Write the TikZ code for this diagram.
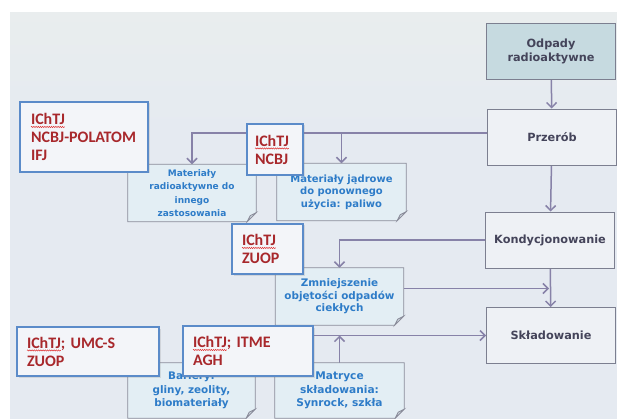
\documentclass[tikz,border=0pt]{standalone}
\usepackage{fontspec}
\usetikzlibrary{arrows.meta,shadows,decorations.pathmorphing}
\newfontfamily\instfont{Carlito}
\newfontfamily\boxfont{DejaVu Sans}

\definecolor{linecol}{HTML}{8782A8}
\definecolor{boxline}{HTML}{7C7F90}
\definecolor{stagetext}{HTML}{44445A}
\definecolor{wastefill}{HTML}{C6DAE0}
\definecolor{notefill}{HTML}{E3EEF4}
\definecolor{noteline}{HTML}{8A8C9A}
\definecolor{notetext}{HTML}{2E7CC8}
\definecolor{instline}{HTML}{5B8BC9}
\definecolor{instfill}{HTML}{F3F5F9}
\definecolor{insttext}{HTML}{A8282C}
\definecolor{spellred}{HTML}{E03030}
\definecolor{bgtop}{HTML}{EFF3E8}
\definecolor{bgmid}{HTML}{E5EAF1}
\definecolor{bglow}{HTML}{D0DBD4}
\definecolor{bgbot}{HTML}{A9BCA8}

\pgfdeclareverticalshading{slidebg}{100bp}{color(0bp)=(bgbot); color(4bp)=(bgbot); color(9bp)=(bglow); color(14bp)=(bgmid); color(60bp)=(bgmid); color(100bp)=(bgtop)}

\pgfdeclarelayer{back}
\pgfsetlayers{back,main}

\newsavebox\spellbox
\newcommand\spellerr[1]{\sbox\spellbox{#1}\rlap{\tikz[overlay, x=1pt, y=1pt]
  \draw [spellred, line width=0.5pt, decorate, decoration={snake, amplitude=0.6pt, segment length=2.2pt}]
    (0pt,-2.4pt) -- (\wd\spellbox,-2.4pt);}\usebox\spellbox}

\begin{document}
\begin{tikzpicture}[x=1pt, y=-1pt, >={Straight Barb[length=5pt,width=10pt]},
  stage/.style={draw=boxline, line width=0.9pt, fill=white, fill opacity=0.35, text opacity=1,
    minimum width=129pt, minimum height=56pt, align=center, text=stagetext,
    font=\boxfont\bfseries\fontsize{11.3}{13.5}\selectfont},
  note/.style={minimum width=128pt, minimum height=57pt, inner sep=0pt, align=center,
    text=notetext},
  inst/.style={draw=instline, line width=1.3pt, fill=instfill, text=insttext,
    inner xsep=10pt, inner ysep=0pt, align=left, anchor=center,
    drop shadow={opacity=0.2, shadow xshift=1.5pt, shadow yshift=-1.5pt},
    font=\instfont\bfseries\fontsize{16}{18}\selectfont},
  conn/.style={draw=linecol, line width=1.5pt},
  notebg/.style={fill=notefill, draw=noteline, line width=0.8pt}]

\useasboundingbox (0,0) rectangle (617,419);

% process stages
\node [stage, fill=wastefill, fill opacity=1] (odp) at (551,51.5) {Odpady\\radioaktywne};
\node [stage] (prz) at (552,137) {Przerób};
\node [stage] (kon) at (550,240) {Kondycjonowanie};
\node [stage] (skl) at (551,335.5) {Składowanie};

% notes
\node [note, font=\boxfont\bfseries\fontsize{9}{13.5}\selectfont] (mr) at (192,193) {Materiały\\radioaktywne do\\innego\\zastosowania};
\node [note, minimum width=129pt, font=\boxfont\bfseries\fontsize{10}{12.5}\selectfont] (mj) at (341.5,192) {Materiały jądrowe\\do ponownego\\użycia: paliwo};
\node [note, font=\boxfont\bfseries\fontsize{10.4}{12.5}\selectfont] (zm) at (339.5,296.5) {Zmniejszenie\\objętości odpadów\\ciekłych};
\node [note, minimum width=127pt, minimum height=55pt, font=\boxfont\bfseries\fontsize{10.4}{13.5}\selectfont] (ba) at (191.5,390.5) {Bariery:\\gliny, zeolity,\\biomateriały};
\node [note, minimum width=129pt, minimum height=55pt, font=\boxfont\bfseries\fontsize{10.6}{13.5}\selectfont] (ma) at (339.5,390.5) {Matryce\\składowania:\\Synrock, szkła};

% institutes
\node [inst, text width=106pt, minimum height=70pt, inner xsep=11pt] (polatom) at (84,137)
  {\spellerr{IChTJ}\\NCBJ-POLATOM\\IFJ};
\node [inst, text width=40pt, minimum height=51pt, inner xsep=8pt] (ncbj) at (275,149.5)
  {\spellerr{IChTJ}\\NCBJ};
\node [inst, text width=51pt, minimum height=50pt] (zuop) at (267.5,249)
  {\spellerr{IChTJ}\\ZUOP};
\node [inst, text width=122pt, minimum height=49pt] (umcs) at (88,351.5)
  {\spellerr{IChTJ}; UMC-S\\ZUOP};
\node [inst, text width=110pt, minimum height=50pt] (itme) at (248,351)
  {\spellerr{IChTJ}; ITME\\AGH};

\begin{pgfonlayer}{back}
\fill [white] (0,0) rectangle (617,419);
\shade [shading=slidebg] (10,13) rectangle (617,419);

\coordinate (prz-l) at ([yshift=4pt]prz.west);
\coordinate (zm-r) at ([yshift=8pt]zm.east);

\draw [conn,->] (odp) -- (prz);
\draw [conn,->] (prz) -- (kon);
\draw [conn,->] (kon) -- (skl);
\draw [conn,->] (prz-l) -| (mr.north);
\draw [conn,->] (mj.north |- prz-l) -- (mj.north);
\draw [conn,->] (kon.west) -| (zm.north);
\draw [conn,->] (zm-r) -- ([xshift=-1pt]zm-r -| kon.south);
\draw [conn,->] (skl.west -| itme.east) -- (skl.west);
\draw [conn,->] (ma.north) -- (ma.north |- skl.west);

\foreach \n in {mr,mj,zm,ba,ma} {
  \filldraw [notebg] (\n.north west) -- (\n.north east) -- ([yshift=9pt]\n.south east)
    -- ([xshift=-9pt]\n.south east) -- (\n.south west) -- cycle;
  \filldraw [notebg, fill=notefill!80!noteline] ([xshift=-9pt]\n.south east)
    -- ([xshift=-6pt,yshift=6pt]\n.south east) -- ([yshift=9pt]\n.south east) -- cycle;
}
\end{pgfonlayer}
\end{tikzpicture}
\end{document}
